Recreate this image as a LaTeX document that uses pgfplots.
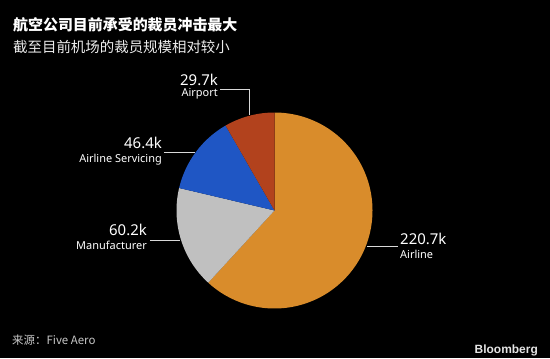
\documentclass[border=0pt]{standalone}
\usepackage{pgfplots}
\usepackage{pgfplotstable}
\pgfplotsset{compat=1.18}
\usepackage{fontspec}
\setmainfont{Noto Sans}
\newfontfamily\cjk{Noto Sans CJK SC}
\newfontfamily\lib{Liberation Sans}
\definecolor{cAirline}{RGB}{217,140,43}
\definecolor{cManu}{RGB}{192,192,192}
\definecolor{cServ}{RGB}{31,86,196}
\definecolor{cAirport}{RGB}{178,66,29}
\definecolor{srcgray}{RGB}{200,200,200}
\pgfplotstableread{
label value
Airline 220.7
Manufacturer 60.2
Servicing 46.4
Airport 29.7
}\piedata
\begin{document}%
\begin{tikzpicture}[x=1bp,y=1bp]
\pgfplotstablegetelem{0}{value}\of\piedata \edef\va{\pgfplotsretval}
\pgfplotstablegetelem{1}{value}\of\piedata \edef\vb{\pgfplotsretval}
\pgfplotstablegetelem{2}{value}\of\piedata \edef\vc{\pgfplotsretval}
\pgfplotstablegetelem{3}{value}\of\piedata \edef\vd{\pgfplotsretval}
\pgfmathsetmacro\tot{\va+\vb+\vc+\vd}
\pgfmathsetmacro\azero{90}
\pgfmathsetmacro\aone{\azero-360*(\va/\tot)}
\pgfmathsetmacro\atwo{\aone-360*(\vb/\tot)}
\pgfmathsetmacro\athree{\atwo-360*(\vc/\tot)}
\pgfmathsetmacro\afour{\athree-360*(\vd/\tot)}
\path[use as bounding box] (0,0) rectangle (550,358);
\fill[black] (0,0) rectangle (550,358);
\begin{axis}[
  at={(176.5bp,49.5bp)}, anchor=south west,
  scale only axis, width=196bp, height=196bp,
  xmin=-1, xmax=1, ymin=-1, ymax=1,
  hide axis, clip=false,
]
\addplot[draw=none, fill=cAirline, domain=\aone:\azero, samples=120, variable=\t] ({cos(\t)},{sin(\t)}) -- (axis cs:0,0) -- cycle;
\addplot[draw=none, fill=cManu, domain=\atwo:\aone, samples=60, variable=\t] ({cos(\t)},{sin(\t)}) -- (axis cs:0,0) -- cycle;
\addplot[draw=none, fill=cServ, domain=\athree:\atwo, samples=50, variable=\t] ({cos(\t)},{sin(\t)}) -- (axis cs:0,0) -- cycle;
\addplot[draw=none, fill=cAirport, domain=\afour:\athree, samples=40, variable=\t] ({cos(\t)},{sin(\t)}) -- (axis cs:0,0) -- cycle;
% leader lines
\addplot[white!85!black, line width=0.8pt] coordinates {(-0.556,1.240) (-0.260,1.240) (-0.260,0.97)};
\addplot[white!85!black, line width=0.8pt] coordinates {(-1.128,0.597) (-0.815,0.597)};
\addplot[white!85!black, line width=0.8pt] coordinates {(-1.270,-0.301) (-0.965,-0.301)};
\addplot[white!85!black, line width=0.8pt] coordinates {(0.945,-0.362) (1.260,-0.362)};
\end{axis}
% labels
\begin{scope}[every node/.style={text=white, inner sep=0pt}]
\node[anchor=south east, font=\fontsize{15}{16}\selectfont] at (218,358-86) {29.7k};
\node[anchor=north east, font=\fontsize{11}{12}\selectfont] at (218,358-88.5) {Airport};
\node[anchor=south east, font=\fontsize{15}{16}\selectfont] at (162,358-149) {46.4k};
\node[anchor=north east, font=\fontsize{11}{12}\selectfont] at (162,358-153.5) {Airline Servicing};
\node[anchor=south east, font=\fontsize{15}{16}\selectfont] at (147,358-236) {60.2k};
\node[anchor=north east, font=\fontsize{11}{12}\selectfont] at (147,358-240.5) {Manufacturer};
\node[anchor=south west, font=\fontsize{15}{16}\selectfont] at (400,358-245) {220.7k};
\node[anchor=north west, font=\fontsize{11}{12}\selectfont] at (400,358-249.5) {Airline};
\node[anchor=base west, font=\cjk\bfseries\fontsize{15}{17}\selectfont] at (13,358-30) {航空公司目前承受的裁员冲击最大};
\node[anchor=base west, font=\cjk\fontsize{14.5}{17}\selectfont, text=white!92!black] at (13,358-52) {截至目前机场的裁员规模相对较小};
\node[anchor=base west, font=\cjk\fontsize{11.5}{13}\selectfont, text=srcgray] at (12,358-344) {来源：Five Aero};
\node[anchor=base east, font=\lib\bfseries\fontsize{12}{13}\selectfont, text=white!90!black] at (538,358-353) {Bloomberg};
\end{scope}
\end{tikzpicture}%
\end{document}
